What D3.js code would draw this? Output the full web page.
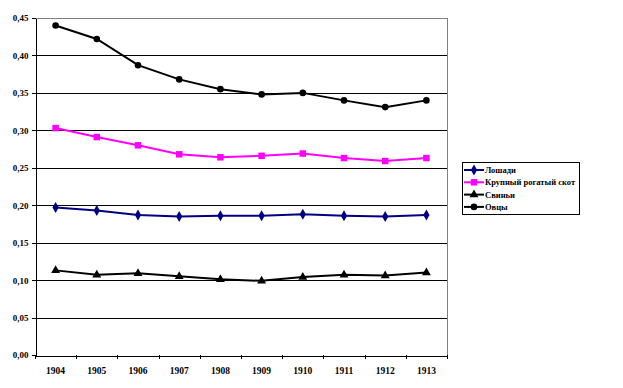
<!DOCTYPE html>
<html><head><meta charset="utf-8">
<script src="https://cdn.jsdelivr.net/npm/d3@7/dist/d3.min.js"></script>
<style>body{margin:0;background:#fff}svg{display:block}</style>
</head><body>
<svg id="c" width="623" height="388"></svg>
<script>
const years = ["1904","1905","1906","1907","1908","1909","1910","1911","1912","1913"];
const horses = [0.197,0.193,0.187,0.185,0.186,0.186,0.188,0.186,0.185,0.187];
const cattle = [0.303,0.291,0.280,0.268,0.264,0.266,0.269,0.263,0.259,0.263];
const pigs   = [0.113,0.107,0.109,0.105,0.101,0.099,0.104,0.107,0.106,0.110];
const sheep  = [0.440,0.422,0.387,0.368,0.355,0.348,0.350,0.340,0.331,0.340];
const yTicks = [0,0.05,0.10,0.15,0.20,0.25,0.30,0.35,0.40,0.45];
const seriesNames = ["Лошади","Крупный рогатый скот","Свиньи","Овцы"];

const series = [
  {name: seriesNames[0], values: horses, color: "#000080", sym: d3.symbolDiamond, size: 34},
  {name: seriesNames[1], values: cattle, color: "#FF00FF", sym: d3.symbolSquare, size: 42},
  {name: seriesNames[2], values: pigs,   color: "#000000", sym: d3.symbolTriangle, size: 34},
  {name: seriesNames[3], values: sheep,  color: "#000000", sym: d3.symbolCircle, size: 34}
];

const svg = d3.select("#c");
const L = 35, R = 447, T = 18, B = 355;
const x = d3.scaleBand().domain(years).range([L, R]);
const y = d3.scaleLinear().domain([0, 0.45]).range([B, T]);
const font = "'Liberation Serif','Times New Roman',serif";

// gridlines
svg.append("g").selectAll("line").data(yTicks.filter(d => d > 0 && d < 0.45)).join("line")
  .attr("x1", L).attr("x2", R).attr("y1", d => Math.round(y(d)) + 0.5).attr("y2", d => Math.round(y(d)) + 0.5)
  .attr("stroke", "#000").attr("stroke-width", 1).attr("shape-rendering", "crispEdges");
// plot border top/right grey
svg.append("path").attr("d", `M${L},${T+0.5}H${R+0.5}V${B}`).attr("fill", "none")
  .attr("stroke", "#808080").attr("stroke-width", 1).attr("shape-rendering", "crispEdges");

// y axis
const fmt = d => d3.format(".2f")(d).replace(".", ",");
const ya = svg.append("g").attr("transform", `translate(${L + 0.5},0)`)
  .call(d3.axisLeft(y).tickValues(yTicks).tickFormat(fmt).tickSize(4).tickSizeOuter(0));
ya.attr("shape-rendering", "crispEdges");
ya.select(".domain").attr("stroke", "#000");
ya.selectAll("text").attr("font-family", font).attr("font-weight", "bold").attr("font-size", 9).attr("x", -7);

// x axis
const xa = svg.append("g").attr("transform", `translate(0,${B + 0.5})`)
  .call(d3.axisBottom(x).tickSize(0).tickSizeOuter(0));
xa.attr("shape-rendering", "crispEdges");
xa.select(".domain").attr("stroke", "#000");
xa.selectAll("text").attr("font-family", font).attr("font-weight", "bold").attr("font-size", 9.5).attr("dy", 0).attr("y", 18);
// category boundary ticks
svg.append("g").selectAll("line").data(d3.range(years.length + 1)).join("line")
  .attr("x1", i => Math.round(L + i * x.step()) + 0.5).attr("x2", i => Math.round(L + i * x.step()) + 0.5)
  .attr("y1", B).attr("y2", B + 4).attr("stroke", "#000").attr("shape-rendering", "crispEdges");

const cx = d => x(d) + x.bandwidth() / 2;
const line = d3.line().x((v, i) => cx(years[i])).y(v => y(v));

series.forEach(s => {
  svg.append("path").attr("d", line(s.values)).attr("fill", "none")
    .attr("stroke", s.color).attr("stroke-width", 2);
  svg.append("g").selectAll("path").data(s.values).join("path")
    .attr("transform", (v, i) => `translate(${cx(years[i])},${y(v)})`)
    .attr("d", d3.symbol().type(s.sym).size(s.size)).attr("fill", s.color);
});

// legend
const lg = svg.append("g");
lg.append("rect").attr("x", 462.5).attr("y", 162.5).attr("width", 117).attr("height", 52)
  .attr("fill", "#fff").attr("stroke", "#000").attr("shape-rendering", "crispEdges");
series.forEach((s, i) => {
  const yy = 170 + i * 12.3;
  lg.append("line").attr("x1", 464).attr("x2", 484).attr("y1", yy).attr("y2", yy)
    .attr("stroke", s.color).attr("stroke-width", 2);
  lg.append("path").attr("transform", `translate(474,${yy})`)
    .attr("d", d3.symbol().type(s.sym).size(s.size)).attr("fill", s.color);
  lg.append("text").attr("x", 485).attr("y", yy + 3).text(s.name)
    .attr("font-family", font).attr("font-weight", "bold").attr("font-size", 8.5).attr("fill", "#000");
});
</script>
</body></html>
